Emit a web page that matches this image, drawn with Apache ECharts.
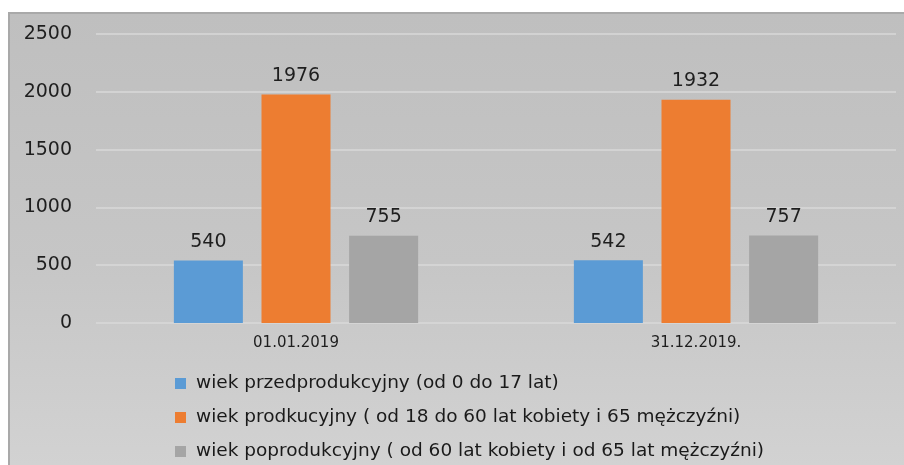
<!DOCTYPE html>
<html>
<head>
<meta charset="utf-8">
<script src="https://cdn.jsdelivr.net/npm/echarts@6/dist/echarts.min.js"></script>
<style>
  html, body { margin: 0; padding: 0; background: #fff; }
  #frame {
    position: absolute; left: 8px; top: 12px; right: 0; bottom: 0;
    border-top: 2px solid #a9a9a9; border-left: 2px solid #a9a9a9;
    background: linear-gradient(to bottom, #bfbfbf 0%, #c6c6c6 55%, #d2d2d2 100%);
  }
  #chart { position: absolute; left: 0; top: 0; width: 904px; height: 465px; }
</style>
</head>
<body>
<div id="frame"></div>
<div id="chart"></div>
<script>
const categories = ["01.01.2019", "31.12.2019."]
const seriesNames = [
  "wiek przedprodukcyjny (od 0 do 17 lat)",
  "wiek prodkucyjny ( od 18 do 60 lat kobiety i 65 mężczyźni)",
  "wiek poprodukcyjny ( od 60 lat kobiety i od 65 lat mężczyźni)"
]
const preWorking = [540, 542]
const working = [1976, 1932]
const postWorking = [755, 757]
const colors = ["#5b9bd5", "#ed7d31", "#a5a5a5"]

const chart = echarts.init(document.getElementById("chart"))

const barSeries = (name, data, color) => ({
  name,
  type: "bar",
  data,
  barWidth: 69,
  barGap: "27%",
  itemStyle: { color },
  label: {
    show: true,
    position: "top",
    distance: 9,
    fontFamily: "DejaVu Sans",
    fontSize: 19,
    color: "#1e1e1e",
  },
})

chart.setOption({
  backgroundColor: "transparent",
  animation: false,
  grid: { left: 96, right: 8, top: 34, bottom: 142 },
  legend: {
    orient: "vertical",
    left: 175,
    top: 374,
    height: 200,
    padding: 0,
    itemWidth: 11,
    itemHeight: 11,
    itemGap: 15,
    icon: "rect",
    data: seriesNames,
    textStyle: {
      fontFamily: "DejaVu Sans",
      fontSize: 18.5,
      lineHeight: 18,
      color: "#1a1a1a",
      padding: [0, 0, 0, 5],
    },
  },
  xAxis: {
    type: "category",
    data: categories,
    axisLine: { show: false },
    axisTick: { show: false },
    axisLabel: {
      margin: 13,
      fontFamily: "DejaVu Sans",
      fontSize: 15,
      color: "#1e1e1e",
    },
  },
  yAxis: {
    type: "value",
    min: 0,
    max: 2500,
    interval: 500,
    axisLine: { show: false },
    axisTick: { show: false },
    splitLine: { lineStyle: { color: "#d9d9d9", width: 1.5 } },
    axisLabel: {
      margin: 24,
      fontFamily: "DejaVu Sans",
      fontSize: 19,
      color: "#1e1e1e",
      formatter: (v) => String(v),
    },
  },
  series: [
    barSeries(seriesNames[0], preWorking, colors[0]),
    barSeries(seriesNames[1], working, colors[1]),
    barSeries(seriesNames[2], postWorking, colors[2]),
  ],
})
</script>
</body>
</html>
